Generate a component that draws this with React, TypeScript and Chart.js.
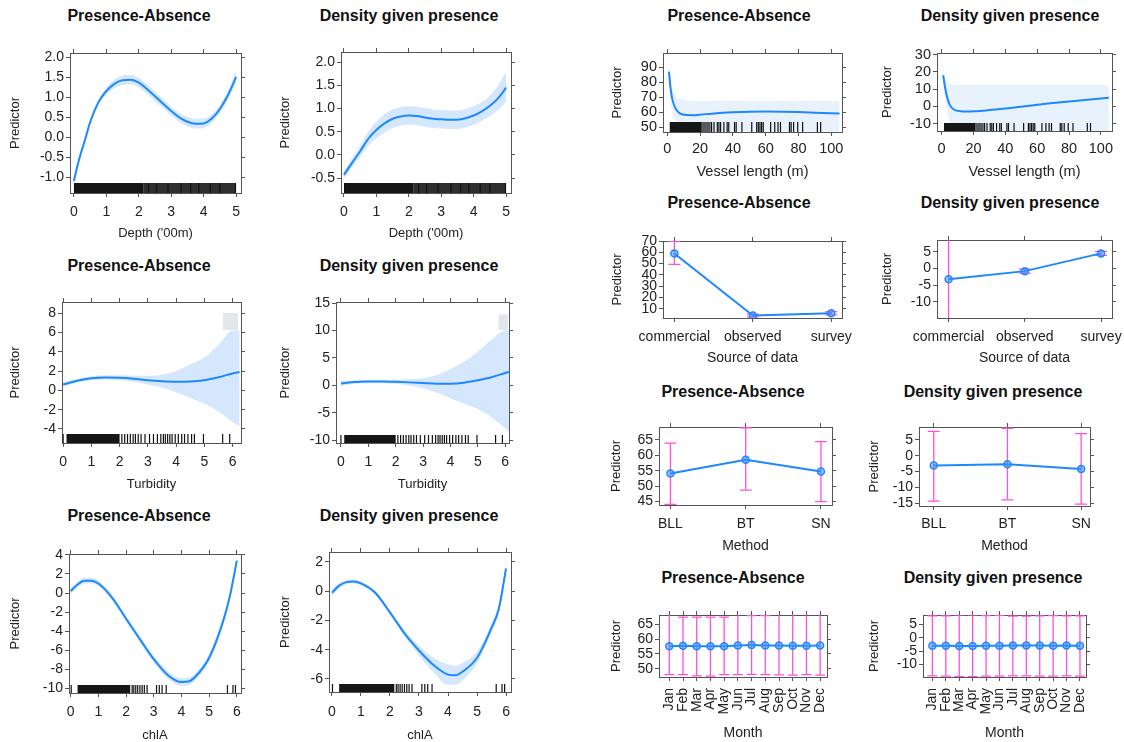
import React, { useEffect, useRef } from "react";
import { Chart, registerables } from "chart.js";

Chart.register(...registerables);

const FONT = '"Liberation Sans", Arial, Helvetica, sans-serif';
const LINE = "#1e88ff";
const BAND = "rgba(120, 180, 245, 0.32)";
const BAND_LIGHT = "rgba(120, 180, 245, 0.17)";
const OVER = "rgba(185, 192, 205, 0.4)";
const ERR = "#ff50dc";
const FRAME = "#555";
const TEXT = "#222";

// ---------------- Depth ----------------
const depthPAX = [0, 0.1, 0.2, 0.35, 0.5, 0.75, 1, 1.25, 1.5, 1.75, 2, 2.25, 2.5, 2.75, 3, 3.25, 3.5, 3.75, 4, 4.25, 4.5, 4.75, 5];
const depthPAFit = [-1.1, -0.75, -0.45, -0.05, 0.37, 0.86, 1.15, 1.33, 1.42, 1.43, 1.36, 1.2, 1.02, 0.83, 0.65, 0.49, 0.38, 0.33, 0.34, 0.46, 0.7, 1.05, 1.5];
const depthPAHi = [-1.05, -0.7, -0.39, 0.01, 0.44, 0.94, 1.24, 1.44, 1.54, 1.55, 1.48, 1.32, 1.14, 0.94, 0.76, 0.6, 0.5, 0.45, 0.46, 0.57, 0.8, 1.16, 1.65];
const depthPALo = [-1.15, -0.8, -0.51, -0.11, 0.3, 0.78, 1.06, 1.22, 1.3, 1.31, 1.24, 1.08, 0.9, 0.72, 0.54, 0.38, 0.26, 0.21, 0.22, 0.35, 0.6, 0.94, 1.35];

const depthDGPX = [0, 0.25, 0.5, 0.75, 1, 1.25, 1.5, 1.75, 2, 2.25, 2.5, 2.75, 3, 3.25, 3.5, 3.75, 4, 4.25, 4.5, 4.75, 5];
const depthDGPFit = [-0.43, -0.17, 0.08, 0.35, 0.54, 0.68, 0.78, 0.83, 0.85, 0.84, 0.81, 0.78, 0.77, 0.76, 0.76, 0.79, 0.85, 0.94, 1.06, 1.22, 1.45];
const depthDGPHi = [-0.35, -0.07, 0.2, 0.5, 0.72, 0.88, 0.98, 1.03, 1.05, 1.04, 1.01, 0.98, 0.97, 0.96, 0.96, 0.99, 1.05, 1.14, 1.28, 1.5, 1.8];
const depthDGPLo = [-0.51, -0.27, -0.04, 0.2, 0.36, 0.48, 0.58, 0.63, 0.65, 0.64, 0.61, 0.58, 0.57, 0.56, 0.56, 0.59, 0.65, 0.74, 0.84, 0.97, 1.15];

const depthRugRanges = [[0.02, 2.15, 0.95], [2.15, 4.98, 0.85]];
const depthRugTicks = [0.02, 2.3, 2.55, 2.9, 3.3, 3.6, 3.85, 4.2, 4.5, 4.98];

// ---------------- Turbidity ----------------
const turbPAX = [0, 0.5, 1, 1.5, 2, 2.5, 3, 3.5, 4, 4.5, 5, 5.5, 6, 6.25];
const turbPAFit = [0.6, 1.0, 1.25, 1.33, 1.3, 1.2, 1.05, 0.95, 0.9, 0.92, 1.05, 1.35, 1.75, 1.9];
const turbPAHi = [0.85, 1.2, 1.45, 1.55, 1.55, 1.5, 1.5, 1.6, 2.0, 2.7, 3.4, 4.7, 6.2, 6.2];
const turbPALo = [0.35, 0.8, 1.05, 1.1, 1.05, 0.9, 0.6, 0.3, -0.2, -0.8, -1.4, -2.2, -3.3, -3.7];
const turbPAOverX = [5.66, 6.2];
const turbPAOverLo = [6.25, 6.25];
const turbPAOverHi = [8.0, 8.0];

const turbDGPX = [0, 0.5, 1, 1.5, 2, 2.5, 3, 3.5, 4, 4.5, 5, 5.5, 6, 6.14];
const turbDGPFit = [0.35, 0.6, 0.7, 0.72, 0.65, 0.55, 0.42, 0.3, 0.3, 0.5, 0.95, 1.5, 2.25, 2.45];
const turbDGPHi = [0.8, 0.9, 1.0, 1.05, 1.05, 1.1, 1.3, 1.9, 3.0, 4.3, 6.2, 8.3, 10.0, 10.0];
const turbDGPLo = [-0.1, 0.3, 0.4, 0.4, 0.3, 0.0, -0.5, -1.3, -2.4, -3.3, -4.3, -5.8, -7.8, -8.5];
const turbDGPOverX = [5.75, 6.1];
const turbDGPOverLo = [10.1, 10.1];
const turbDGPOverHi = [12.9, 12.9];

const turbRugRanges = [[0.12, 2.0, 0.95]];
const turbRugTicks = [0.0, 2.08, 2.18, 2.28, 2.38, 2.48, 2.56, 2.66, 2.76, 2.9, 3.06, 3.2, 3.34, 3.46, 3.55, 3.62, 3.7, 3.78, 3.86, 3.97, 4.08, 4.2, 4.3, 4.42, 4.55, 4.65, 4.97, 5.65, 5.9];

// ---------------- chlA ----------------
const chlX = [0, 0.25, 0.5, 0.75, 1, 1.5, 2, 2.5, 3, 3.5, 4, 4.25, 4.5, 5, 5.5, 5.75, 6];
const chlPAFit = [0.2, 0.9, 1.3, 1.3, 1.0, -0.5, -2.7, -4.85, -6.95, -8.6, -9.35, -9.3, -8.8, -6.8, -3.0, -0.3, 3.4];
const chlPAHi = [0.55, 1.2, 1.6, 1.6, 1.3, -0.2, -2.4, -4.5, -6.6, -8.2, -8.95, -8.9, -8.4, -6.4, -2.6, 0.1, 3.8];
const chlPALo = [-0.15, 0.6, 1.0, 1.0, 0.7, -0.8, -3.0, -5.2, -7.3, -9.0, -9.75, -9.7, -9.2, -7.2, -3.4, -0.7, 3.0];

const chlDGPFit = [-0.1, 0.38, 0.62, 0.66, 0.54, -0.12, -1.45, -2.88, -4.05, -5.05, -5.7, -5.75, -5.5, -4.55, -2.5, -1.2, 1.55];
const chlDGPHi = [0.15, 0.55, 0.77, 0.8, 0.68, 0.03, -1.3, -2.68, -3.7, -4.55, -5.0, -5.1, -4.9, -4.15, -2.2, -0.9, 1.85];
const chlDGPLo = [-0.35, 0.21, 0.47, 0.52, 0.4, -0.27, -1.6, -3.08, -4.4, -5.55, -6.4, -6.4, -6.1, -4.95, -2.8, -1.5, 1.25];

const chlRugRanges = [[0.25, 2.15, 0.95]];
const chlRugTicks = [0.02, 2.22, 2.28, 2.35, 2.42, 2.5, 2.58, 2.66, 2.76, 3.1, 3.2, 3.3, 3.45, 5.66, 5.86, 5.95];

// ---------------- Vessel length ----------------
const vesselX = [1, 2, 3, 5, 8, 12, 16, 20, 30, 40, 50, 60, 70, 80, 90, 100, 105];
const vesselPAFit = [87, 76, 69, 62.5, 59, 58, 57.9, 58.3, 59.3, 59.9, 60.3, 60.4, 60.3, 60, 59.6, 59.2, 59];
const vesselPAHi = [92, 84, 77, 71, 69, 68, 67.5, 67.5, 67.5, 67.5, 67.5, 67.5, 67.5, 67.5, 67.5, 67.5, 67.5];
const vesselPALo = [82, 68, 61, 54, 50, 48, 47, 47, 47, 47, 47, 47, 47, 47, 47, 47, 47];
const vesselDGPFit = [18, 12, 7, 1, -2, -2.8, -3, -2.9, -2.2, -1.3, -0.3, 0.9, 1.9, 2.8, 3.7, 4.6, 5.0];
const vesselDGPHi = [23, 18, 15, 13, 12.5, 12.5, 12.5, 12.5, 12.5, 12.5, 12.5, 12.5, 12.5, 12.5, 12.5, 12.5, 12.5];
const vesselDGPLo = [13, 6, 0, -8, -12, -14, -15, -15, -15, -15, -15, -15, -15, -15, -15, -15, -15];

const vesselRugRanges = [[1.5, 21, 0.95], [21, 26.5, 0.65]];
const vesselRugTicks = [27, 28.5, 30.5, 31.5, 32.5, 34.5, 36.5, 37.5, 41, 42, 45.5, 51.5, 54.5, 55.5, 56.5, 57.5, 58.5, 63, 65.5, 67.5, 69, 74.5, 75.5, 77, 79.5, 82.5, 91.5, 93.5];

// ---------------- Factors ----------------
const sourceCats = ["commercial", "observed", "survey"];
const sourcePA = [59, 4, 6];
const sourcePALo = [49.3, 2.8, 4.6];
const sourcePAHi = [69.8, 5.2, 7.4];
const sourceDGP = [-3.2, -0.8, 4.5];
const sourceDGPLo = [-30, -1.4, 3.9];
const sourceDGPHi = [25, -0.2, 5.1];

const methodCats = ["BLL", "BT", "SN"];
const methodPA = [54.1, 58.5, 54.7];
const methodPALo = [44.1, 48.7, 45.0];
const methodPAHi = [63.9, 68.8, 64.4];
const methodDGP = [-3.1, -2.7, -4.2];
const methodDGPLo = [-14.3, -13.9, -15.2];
const methodDGPHi = [7.6, 8.6, 6.9];

const monthCats = ["Jan", "Feb", "Mar", "Apr", "May", "Jun", "Jul", "Aug", "Sep", "Oct", "Nov", "Dec"];
const monthPA = [57.6, 57.7, 57.6, 57.6, 57.6, 57.8, 58.0, 57.8, 57.8, 57.7, 57.7, 57.8];
const monthPALo = [48.0, 48.0, 47.6, 47.5, 48.0, 48.0, 48.1, 48.0, 47.9, 47.8, 48.0, 47.8];
const monthPAHi = [68.3, 67.4, 67.4, 67.4, 67.4, 68.3, 67.9, 67.9, 68.4, 68.3, 68.3, 68.4];
const monthDGP = [-3.0, -3.0, -3.1, -3.1, -3.0, -3.0, -2.9, -2.9, -2.9, -3.0, -2.9, -3.0];
const monthDGPLo = [-14.2, -14.3, -14.5, -14.5, -14.3, -14.3, -14.2, -14.2, -14.3, -14.3, -14.2, -14.3];
const monthDGPHi = [8.1, 8.1, 8.5, 8.5, 8.2, 8.3, 8.0, 8.0, 8.1, 8.2, 8.1, 8.1];

// ---------------- Tick values ----------------
const ticks0to5 = [0, 1, 2, 3, 4, 5];
const ticks0to6 = [0, 1, 2, 3, 4, 5, 6];
const ticksVessel = [0, 20, 40, 60, 80, 100];
const ticks3 = [0, 1, 2];
const ticks12 = [0, 1, 2, 3, 4, 5, 6, 7, 8, 9, 10, 11];
const yDepthPA = [-1, -0.5, 0, 0.5, 1, 1.5, 2];
const yDepthDGP = [-0.5, 0, 0.5, 1, 1.5, 2];
const yTurbPA = [-4, -2, 0, 2, 4, 6, 8];
const yTurbDGP = [-10, -5, 0, 5, 10, 15];
const yChlPA = [-10, -8, -6, -4, -2, 0, 2, 4];
const yChlDGP = [-6, -4, -2, 0, 2];
const yVesselPA = [50, 60, 70, 80, 90];
const yVesselDGP = [-10, 0, 10, 20, 30];
const ySourcePA = [10, 20, 30, 40, 50, 60, 70];
const ySourceDGP = [-10, -5, 0, 5];
const yMethodPA = [45, 50, 55, 60, 65];
const yMethodDGP = [-15, -10, -5, 0, 5];
const yMonthPA = [50, 55, 60, 65];
const yMonthDGP = [-10, -5, 0, 5];

type Curve = { x: number[]; fit: number[]; lo: number[]; hi: number[] };
type Over = { x: number[]; lo: number[]; hi: number[] };
type Rug = { ranges: number[][]; ticks: number[] };
type Cat = { vals: number[]; lo: number[]; hi: number[] };
type Spec = {
  id: string;
  title: string;
  titleX: number;
  titleY: number;
  L: number;
  T: number;
  R: number;
  B: number;
  xMin: number;
  xMax: number;
  yMin: number;
  yMax: number;
  xTicks: number[];
  yTicks: number[];
  xLabels?: string[];
  yFixed?: number;
  xTitle: string;
  xTitleY: number;
  xTickY: number;
  yTitleX: number;
  font: number;
  tfont: number;
  rotate?: boolean;
  rugLen?: number;
  cap?: number;
  band?: string;
  curve?: Curve;
  over?: Over;
  rug?: Rug;
  cat?: Cat;
};

const PA = "Presence-Absence";
const DGP = "Density given presence";

const specs: Spec[] = [
  {
    id: "depthPA", title: PA, titleX: 139, titleY: 16, L: 70, T: 53, R: 241, B: 193,
    xMin: -0.12, xMax: 5.15, yMin: -1.4, yMax: 2.1, xTicks: ticks0to5, yTicks: yDepthPA, yFixed: 1,
    xTitle: "Depth ('00m)", xTitleY: 233, xTickY: 211, yTitleX: 16, font: 13, tfont: 14, rugLen: 10,
    curve: { x: depthPAX, fit: depthPAFit, lo: depthPALo, hi: depthPAHi },
    rug: { ranges: depthRugRanges, ticks: depthRugTicks },
  },
  {
    id: "depthDGP", title: DGP, titleX: 409, titleY: 16, L: 341, T: 52, R: 511, B: 193,
    xMin: -0.09, xMax: 5.15, yMin: -0.82, yMax: 2.22, xTicks: ticks0to5, yTicks: yDepthDGP, yFixed: 1,
    xTitle: "Depth ('00m)", xTitleY: 233, xTickY: 211, yTitleX: 286, font: 13, tfont: 14, rugLen: 10,
    curve: { x: depthDGPX, fit: depthDGPFit, lo: depthDGPLo, hi: depthDGPHi },
    rug: { ranges: depthRugRanges, ticks: depthRugTicks },
  },
  {
    id: "turbPA", title: PA, titleX: 139, titleY: 266, L: 62, T: 302, R: 241, B: 443,
    xMin: -0.04, xMax: 6.3, yMin: -5.45, yMax: 9.14, xTicks: ticks0to6, yTicks: yTurbPA,
    xTitle: "Turbidity", xTitleY: 484, xTickY: 461, yTitleX: 16, font: 13, tfont: 14, rugLen: 9,
    curve: { x: turbPAX, fit: turbPAFit, lo: turbPALo, hi: turbPAHi },
    over: { x: turbPAOverX, lo: turbPAOverLo, hi: turbPAOverHi },
    rug: { ranges: turbRugRanges, ticks: turbRugTicks },
  },
  {
    id: "turbDGP", title: DGP, titleX: 409, titleY: 266, L: 336, T: 302, R: 509, B: 443,
    xMin: -0.18, xMax: 6.14, yMin: -10.5, yMax: 15.2, xTicks: ticks0to6, yTicks: yTurbDGP,
    xTitle: "Turbidity", xTitleY: 484, xTickY: 461, yTitleX: 286, font: 13, tfont: 14, rugLen: 8,
    curve: { x: turbDGPX, fit: turbDGPFit, lo: turbDGPLo, hi: turbDGPHi },
    over: { x: turbDGPOverX, lo: turbDGPOverLo, hi: turbDGPOverHi },
    rug: { ranges: turbRugRanges, ticks: turbRugTicks },
  },
  {
    id: "chlPA", title: PA, titleX: 139, titleY: 516, L: 69, T: 554, R: 241, B: 693,
    xMin: -0.06, xMax: 6.15, yMin: -10.5, yMax: 4.1, xTicks: ticks0to6, yTicks: yChlPA,
    xTitle: "chlA", xTitleY: 735, xTickY: 711.7, yTitleX: 16, font: 13, tfont: 14, rugLen: 8,
    curve: { x: chlX, fit: chlPAFit, lo: chlPALo, hi: chlPAHi },
    rug: { ranges: chlRugRanges, ticks: chlRugTicks },
  },
  {
    id: "chlDGP", title: DGP, titleX: 409, titleY: 516, L: 329, T: 552, R: 511, B: 692,
    xMin: -0.1, xMax: 6.17, yMin: -6.89, yMax: 2.68, xTicks: ticks0to6, yTicks: yChlDGP,
    xTitle: "chlA", xTitleY: 735, xTickY: 711.7, yTitleX: 286, font: 13, tfont: 14, rugLen: 8,
    curve: { x: chlX, fit: chlDGPFit, lo: chlDGPLo, hi: chlDGPHi },
    rug: { ranges: chlRugRanges, ticks: chlRugTicks },
  },
  {
    id: "vesselPA", title: PA, titleX: 739, titleY: 16, L: 663, T: 53, R: 842, B: 132,
    xMin: -2.6, xMax: 106.5, yMin: 46.7, yMax: 99.5, xTicks: ticksVessel, yTicks: yVesselPA,
    xTitle: "Vessel length (m)", xTitleY: 172.7, xTickY: 148.3, yTitleX: 618, font: 14.5, tfont: 14.5, rugLen: 10,
    band: BAND_LIGHT,
    curve: { x: vesselX, fit: vesselPAFit, lo: vesselPALo, hi: vesselPAHi },
    rug: { ranges: vesselRugRanges, ticks: vesselRugTicks },
  },
  {
    id: "vesselDGP", title: DGP, titleX: 1010, titleY: 16, L: 937, T: 53, R: 1112, B: 131,
    xMin: -2.9, xMax: 107, yMin: -14.3, yMax: 30.9, xTicks: ticksVessel, yTicks: yVesselDGP,
    xTitle: "Vessel length (m)", xTitleY: 172.7, xTickY: 148.3, yTitleX: 887.5, font: 14.5, tfont: 14.5, rugLen: 8,
    band: BAND_LIGHT,
    curve: { x: vesselX, fit: vesselDGPFit, lo: vesselDGPLo, hi: vesselDGPHi },
    rug: { ranges: vesselRugRanges, ticks: vesselRugTicks },
  },
  {
    id: "sourcePA", title: PA, titleX: 739, titleY: 203, L: 663, T: 241, R: 842, B: 318,
    xMin: -0.145, xMax: 2.137, yMin: 1.8, yMax: 70, xTicks: ticks3, yTicks: ySourcePA, xLabels: sourceCats,
    xTitle: "Source of data", xTitleY: 358.3, xTickY: 336.7, yTitleX: 618, font: 14, tfont: 14, cap: 6,
    cat: { vals: sourcePA, lo: sourcePALo, hi: sourcePAHi },
  },
  {
    id: "sourceDGP", title: DGP, titleX: 1010, titleY: 203, L: 937, T: 240, R: 1112, B: 318,
    xMin: -0.152, xMax: 2.144, yMin: -14.8, yMax: 8.5, xTicks: ticks3, yTicks: ySourceDGP, xLabels: sourceCats,
    xTitle: "Source of data", xTitleY: 358.3, xTickY: 336.7, yTitleX: 887.5, font: 14, tfont: 14, cap: 6,
    cat: { vals: sourceDGP, lo: sourceDGPLo, hi: sourceDGPHi },
  },
  {
    id: "methodPA", title: PA, titleX: 733, titleY: 392, L: 659, T: 427, R: 832, B: 505,
    xMin: -0.152, xMax: 2.147, yMin: 43.9, yMax: 69.1, xTicks: ticks3, yTicks: yMethodPA, xLabels: methodCats,
    xTitle: "Method", xTitleY: 546.7, xTickY: 523.3, yTitleX: 617, font: 14, tfont: 14, cap: 6,
    cat: { vals: methodPA, lo: methodPALo, hi: methodPAHi },
  },
  {
    id: "methodDGP", title: DGP, titleX: 993, titleY: 392, L: 919, T: 427, R: 1090, B: 506,
    xMin: -0.2, xMax: 2.12, yMin: -15.8, yMax: 9.0, xTicks: ticks3, yTicks: yMethodDGP, xLabels: methodCats,
    xTitle: "Method", xTitleY: 546.7, xTickY: 523.3, yTitleX: 875, font: 14, tfont: 14, cap: 6,
    cat: { vals: methodDGP, lo: methodDGPLo, hi: methodDGPHi },
  },
  {
    id: "monthPA", title: PA, titleX: 733, titleY: 578, L: 659, T: 615, R: 827, B: 677,
    xMin: -0.75, xMax: 11.5, yMin: 47.2, yMax: 68.1, xTicks: ticks12, yTicks: yMonthPA, xLabels: monthCats,
    xTitle: "Month", xTitleY: 733.3, xTickY: 688, yTitleX: 617, font: 14, tfont: 14, rotate: true, cap: 5,
    cat: { vals: monthPA, lo: monthPALo, hi: monthPAHi },
  },
  {
    id: "monthDGP", title: DGP, titleX: 993, titleY: 578, L: 923, T: 615, R: 1086, B: 677,
    xMin: -0.7, xMax: 11.45, yMin: -14.6, yMax: 8.4, xTicks: ticks12, yTicks: yMonthDGP, xLabels: monthCats,
    xTitle: "Month", xTitleY: 733.3, xTickY: 688, yTitleX: 875, font: 14, tfont: 14, rotate: true, cap: 5,
    cat: { vals: monthDGP, lo: monthDGPLo, hi: monthDGPHi },
  },
];

const TL = 4;
const TOP_PAD = 14;
const RIGHT_PAD = 26;
const Y_TITLE_FONT = 13;

function pts(x: number[], y: number[]) {
  return x.map((v, i) => ({ x: v, y: y[i] }));
}

function rugPlugin(s: Spec) {
  return {
    id: "rug",
    afterDatasetsDraw(chart: any) {
      if (!s.rug) return;
      const { ctx, chartArea: a } = chart;
      const x = chart.scales.x;
      const len = s.rugLen || 9;
      ctx.save();
      ctx.beginPath();
      ctx.rect(a.left, a.top, a.right - a.left, a.bottom - a.top);
      ctx.clip();
      const y0 = a.bottom - len;
      for (const r of s.rug.ranges) {
        const p0 = x.getPixelForValue(r[0]);
        const p1 = x.getPixelForValue(r[1]);
        ctx.fillStyle = `rgba(10,10,10,${r[2]})`;
        ctx.fillRect(p0, y0, p1 - p0, len);
      }
      ctx.strokeStyle = "#111";
      ctx.lineWidth = 1.2;
      for (const v of s.rug.ticks) {
        const p = x.getPixelForValue(v);
        ctx.beginPath();
        ctx.moveTo(p, y0);
        ctx.lineTo(p, a.bottom);
        ctx.stroke();
      }
      ctx.restore();
    },
  };
}

function errPlugin(s: Spec) {
  return {
    id: "errbars",
    beforeDatasetsDraw(chart: any) {
      if (!s.cat) return;
      const { ctx, chartArea: a } = chart;
      const x = chart.scales.x;
      const y = chart.scales.y;
      const cap = s.cap || 6;
      ctx.save();
      ctx.beginPath();
      ctx.rect(a.left, a.top, a.right - a.left, a.bottom - a.top);
      ctx.clip();
      ctx.strokeStyle = ERR;
      ctx.lineWidth = 1.3;
      s.cat.vals.forEach((_, i) => {
        const px = x.getPixelForValue(i);
        const p0 = y.getPixelForValue(s.cat!.lo[i]);
        const p1 = y.getPixelForValue(s.cat!.hi[i]);
        ctx.beginPath();
        ctx.moveTo(px, p0);
        ctx.lineTo(px, p1);
        ctx.moveTo(px - cap, p0);
        ctx.lineTo(px + cap, p0);
        ctx.moveTo(px - cap, p1);
        ctx.lineTo(px + cap, p1);
        ctx.stroke();
      });
      ctx.restore();
    },
  };
}

function buildConfig(s: Spec, padL: number, padB: number): any {
  const tickFont = { family: FONT, size: s.tfont };
  const titleFont = { family: FONT, size: s.font };
  const yFont = { family: FONT, size: Y_TITLE_FONT };
  const rot = s.rotate ? 90 : 0;
  const xPad = s.rotate ? s.xTickY - s.B - TL : s.xTickY - s.B - 0.55 * s.tfont - TL;
  const xCb = (v: any) => (s.xLabels ? s.xLabels[Math.round(Number(v))] : String(v));
  const yCb = (v: any) => (s.yFixed !== undefined ? Number(v).toFixed(s.yFixed) : String(v));
  const grid = { display: true, drawOnChartArea: false, drawTicks: true, tickLength: TL, color: FRAME, lineWidth: 1 };
  const border = { display: true, color: FRAME, width: 1 };
  const setX = (a: any) => {
    a.ticks = s.xTicks.map((v) => ({ value: v }));
  };
  const setY = (a: any) => {
    a.ticks = s.yTicks.map((v) => ({ value: v }));
  };

  const datasets: any[] = [];
  if (s.curve) {
    datasets.push({
      data: pts(s.curve.x, s.curve.fit), borderColor: LINE, borderWidth: 2, pointRadius: 0,
      fill: false, cubicInterpolationMode: "monotone", order: 0,
    });
    datasets.push({
      data: pts(s.curve.x, s.curve.hi), borderWidth: 0, borderColor: "rgba(0,0,0,0)", backgroundColor: s.band || BAND,
      pointRadius: 0, fill: "+1", cubicInterpolationMode: "monotone", order: 3,
    });
    datasets.push({
      data: pts(s.curve.x, s.curve.lo), borderWidth: 0, borderColor: "rgba(0,0,0,0)", pointRadius: 0,
      fill: false, cubicInterpolationMode: "monotone", order: 3,
    });
  }
  if (s.over) {
    datasets.push({
      data: pts(s.over.x, s.over.hi), borderWidth: 0, borderColor: "rgba(0,0,0,0)", backgroundColor: OVER,
      pointRadius: 0, fill: "+1", order: 4,
    });
    datasets.push({
      data: pts(s.over.x, s.over.lo), borderWidth: 0, borderColor: "rgba(0,0,0,0)", pointRadius: 0,
      fill: false, order: 4,
    });
  }
  if (s.cat) {
    datasets.push({
      data: s.cat.vals.map((v, i) => ({ x: i, y: v })), borderColor: LINE, borderWidth: 2,
      pointRadius: 3.5, pointBorderWidth: 1.5, pointBorderColor: LINE,
      pointBackgroundColor: "rgba(60,150,255,0.55)", fill: false, tension: 0, order: 0,
    });
  }

  return {
    type: "line",
    data: { datasets },
    plugins: [rugPlugin(s), errPlugin(s)],
    options: {
      animation: false,
      responsive: false,
      maintainAspectRatio: false,
      devicePixelRatio: 1,
      events: [],
      layout: { padding: 0 },
      plugins: { legend: { display: false }, tooltip: { enabled: false }, title: { display: false } },
      scales: {
        x: {
          type: "linear", position: "bottom", min: s.xMin, max: s.xMax,
          afterBuildTicks: setX,
          afterFit: (a: any) => { a.height = padB; },
          ticks: {
            autoSkip: false, maxRotation: rot, minRotation: rot, padding: xPad, color: TEXT,
            font: tickFont, callback: xCb,
          },
          grid, border,
          title: { display: true, text: s.xTitle, color: TEXT, font: titleFont, padding: { top: 0, bottom: 2 } },
        },
        y: {
          type: "linear", position: "left", min: s.yMin, max: s.yMax,
          afterBuildTicks: setY,
          afterFit: (a: any) => { a.width = padL; },
          ticks: { autoSkip: false, padding: 2, color: TEXT, font: tickFont, callback: yCb },
          grid, border,
          title: { display: true, text: "Predictor", color: TEXT, font: yFont, padding: { top: 2, bottom: 0 } },
        },
        x2: {
          type: "linear", position: "top", min: s.xMin, max: s.xMax,
          afterBuildTicks: setX,
          afterFit: (a: any) => { a.height = TOP_PAD; },
          ticks: { display: false },
          grid, border,
        },
        y2: {
          type: "linear", position: "right", min: s.yMin, max: s.yMax,
          afterBuildTicks: setY,
          afterFit: (a: any) => { a.width = RIGHT_PAD; },
          ticks: { display: false },
          grid, border,
        },
      },
    },
  };
}

function Panel({ s }: { s: Spec }) {
  const ref = useRef<HTMLCanvasElement>(null);
  const cl = Math.round(s.yTitleX - 2 - (Y_TITLE_FONT * 1.2) / 2);
  const ct = s.T - TOP_PAD;
  const cr = s.R + RIGHT_PAD;
  const cb = Math.round(s.xTitleY + 2 + (s.font * 1.2) / 2);
  const W = cr - cl;
  const H = cb - ct;
  const padL = s.L - cl;
  const padB = cb - s.B;

  useEffect(() => {
    if (!ref.current) return;
    const chart = new Chart(ref.current, buildConfig(s, padL, padB));
    return () => chart.destroy();
  }, []);

  return (
    <canvas
      ref={ref}
      width={W}
      height={H}
      style={{ position: "absolute", left: cl, top: ct, width: W, height: H }}
    />
  );
}

export default function App() {
  return (
    <div
      style={{
        position: "absolute", left: 0, top: 0, width: 1124, height: 742,
        overflow: "hidden", background: "#fff", fontFamily: FONT,
      }}
    >
      {specs.map((s) => (
        <Panel key={s.id} s={s} />
      ))}
      {specs.map((s) => (
        <div
          key={s.id + "-title"}
          style={{
            position: "absolute", left: s.titleX, top: s.titleY, transform: "translate(-50%, -50%)",
            font: `bold 16px ${FONT}`, color: "#111", whiteSpace: "nowrap",
          }}
        >
          {s.title}
        </div>
      ))}
    </div>
  );
}
